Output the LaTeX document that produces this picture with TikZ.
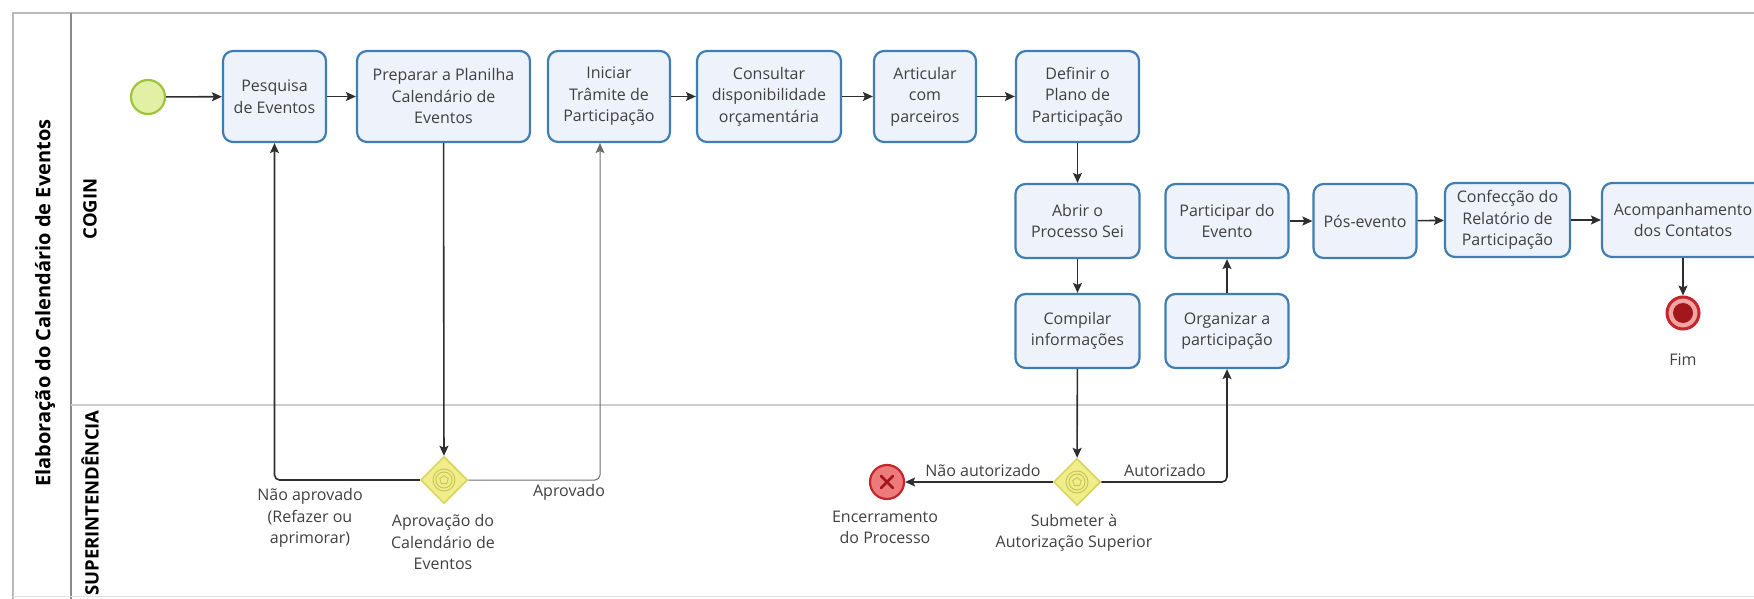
\documentclass[tikz,border=0pt]{standalone}
\usepackage{fontspec}
\setmainfont{Open Sans}
\usetikzlibrary{arrows.meta,shapes.geometric}

\definecolor{taskfill}{HTML}{EEF2FB}
\definecolor{taskline}{HTML}{3F7DB3}
\definecolor{txt}{HTML}{404040}
\definecolor{flowc}{HTML}{2E2E2E}
\definecolor{startfill}{HTML}{E2F0A6}
\definecolor{startline}{HTML}{9EC33E}
\definecolor{gatefill}{HTML}{F0EE8A}
\definecolor{gateline}{HTML}{D6D25A}
\definecolor{gatering}{HTML}{C9C55A}
\definecolor{endline}{HTML}{C3262B}
\definecolor{endfill}{HTML}{A3161A}
\definecolor{endring}{HTML}{F2A3A3}
\definecolor{errfill}{HTML}{EE7B7B}
\definecolor{poolline}{HTML}{8A8A8A}
\definecolor{laneline}{HTML}{CDCDCD}

\tikzset{
  task/.style={draw=taskline, fill=taskfill, line width=2.2pt, rounded corners=10pt,
    align=center, inner sep=0pt, text=txt, font=\fontsize{16}{21.5}\selectfont},
  rowone/.style={minimum height=91pt},
  rowtwo/.style={minimum height=74pt},
  flow/.style={draw=flowc, line width=1.6pt, -{Stealth[length=10pt,width=9pt,inset=2pt]}},
  thinflow/.style={draw=flowc!70, line width=1pt, -{Stealth[length=10pt,width=9pt,inset=2pt]}},
  lbl/.style={align=center, text=txt, inner sep=0pt, font=\fontsize{16}{21.5}\selectfont},
  lanelbl/.style={rotate=90, font=\bfseries\fontsize{18.5}{20}\selectfont, text=black, inner sep=0pt},
  gate/.style={diamond, aspect=1, draw=gateline, fill=gatefill, line width=1.5pt,
    minimum width=47pt, minimum height=47pt, inner sep=0pt},
}

\begin{document}
\begin{tikzpicture}[x=1pt,y=-1pt]
\useasboundingbox (0,0) rectangle (1754,599);
\clip (0,0) rectangle (1754,599);

% pool and lanes
\draw[poolline!60, line width=1.5pt] (13,600) -- (13,13) -- (1760,13);
\draw[poolline, line width=1.5pt] (71,13) -- (71,600);
\draw[laneline, line width=1.2pt] (71,405) -- (1760,405);
\draw[laneline!60, line width=1pt] (13,596) -- (1760,596);

\node[lanelbl, font=\bfseries\fontsize{20}{22}\selectfont] (pool) at (45,303) {Elaboração do Calendário de Eventos};
\node[lanelbl] (lcogin) at (90,209) {COGIN};
\node[lanelbl] (lsup) at (90,503) {SUPERINTENDÊNCIA};

% start event
\node[circle, draw=startline, fill=startfill, line width=2.2pt, minimum size=34pt, inner sep=0pt] (start) at (148,97) {};

% first row of tasks
\node[task, rowone, minimum width=103pt] (pesq) at (274.5,96.5) {Pesquisa\\de Eventos};
\node[task, rowone, minimum width=173pt] (prep) at (443.5,96.5) {Preparar a Planilha\\Calendário de\\Eventos};
\node[task, rowone, minimum width=122pt] (inic) at (609,96.5) {Iniciar\\Trâmite de\\Participação};
\node[task, rowone, minimum width=144pt] (cons) at (769,96.5) {Consultar\\disponibilidade\\orçamentária};
\node[task, rowone, minimum width=102pt] (artic) at (925,96.5) {Articular\\com\\parceiros};
\node[task, rowone, minimum width=123pt] (defin) at (1077.5,96.5) {Definir o\\Plano de\\Participação};

% second and third rows
\node[task, rowtwo, minimum width=124pt] (abrir) at (1077.5,221) {Abrir o\\Processo Sei};
\node[task, rowtwo, minimum width=124pt] (compil) at (1077.5,331) {Compilar\\informações};
\node[task, rowtwo, minimum width=123pt] (partic) at (1227,221) {Participar do\\Evento};
\node[task, rowtwo, minimum width=123pt] (organ) at (1227,331) {Organizar a\\participação};
\node[task, rowtwo, minimum width=103pt] (pos) at (1365,221) {Pós-evento};
\node[task, rowtwo, minimum width=125pt] (confec) at (1507.5,220) {Confecção do\\Relatório de\\Participação};
\node[task, rowtwo, minimum width=162pt] (acomp) at (1683,220) {Acompanhamento\\dos Contatos};

% end event
\node[circle, draw=endline, fill=endring, line width=3pt, minimum size=32pt, inner sep=0pt] (fim) at (1683,313) {};
\fill[endfill] (fim.center) circle (10pt);
\node[lbl] (fimlbl) at (1683,360) {Fim};

% gateways
\node[gate] (g1) at (444,480) {};
\node[gate] (g2) at (1077,482) {};
\foreach \g in {g1,g2}{
  \draw[gatering, line width=1pt] (\g.center) circle (11pt);
  \draw[gatering, line width=1pt] (\g.center) circle (8pt);
  \draw[gatering, line width=0.9pt] (\g.center) ++(90:4.5pt) -- ++(-36:5.3pt) -- ++(-108:5.3pt) -- ++(-180:5.3pt) -- ++(108:5.3pt) -- cycle;
}

% error end event
\node[circle, draw=endline, fill=errfill, line width=2.2pt, minimum size=34pt, inner sep=0pt] (err) at (887,482) {};
\draw[endfill, line width=2.6pt, line cap=round] ([shift={(-6pt,-6pt)}]err.center) -- ([shift={(6pt,6pt)}]err.center);
\draw[endfill, line width=2.6pt, line cap=round] ([shift={(-6pt,6pt)}]err.center) -- ([shift={(6pt,-6pt)}]err.center);

% sequence flows
\draw[flow] (start) -- (pesq);
\draw[flow] (pesq) -- (prep);
\draw[flow] (inic) -- (cons);
\draw[flow] (cons) -- (artic);
\draw[flow] (artic) -- (defin);
\draw[flow] (prep) -- (g1);
\draw[flow, rounded corners=5pt] (g1.west) -| (pesq.south);
\draw[thinflow, rounded corners=5pt] (g1.east) -| ([xshift=-9pt]inic.south);
\draw[flow] (defin) -- (abrir);
\draw[flow] (abrir) -- (compil);
\draw[flow] (compil) -- (g2);
\draw[flow] (g2.west) -- (err);
\draw[flow, rounded corners=5pt] (g2.east) -| (organ.south);
\draw[flow] (organ) -- (partic);
\draw[flow] (partic) -- (pos);
\draw[flow] (pos) -- (confec);
\draw[flow] (confec) -- (acomp);
\draw[flow] (acomp) -- (fim);

% flow and gateway labels
\node[lbl] (naoapr) at (310,518) {Não aprovado\\(Refazer ou\\aprimorar)};
\node[lbl] (apr) at (569,492) {Aprovado};
\node[lbl] (g1lbl) at (443,542) {Aprovação do\\Calendário de\\Eventos};
\node[lbl] (naoaut) at (983,470) {Não autorizado};
\node[lbl] (aut) at (1165,470) {Autorizado};
\node[lbl] (errlbl) at (885,527.5) {Encerramento\\do Processo};
\node[lbl] (g2lbl) at (1074,533) {Submeter à\\Autorização Superior};
\end{tikzpicture}
\end{document}
